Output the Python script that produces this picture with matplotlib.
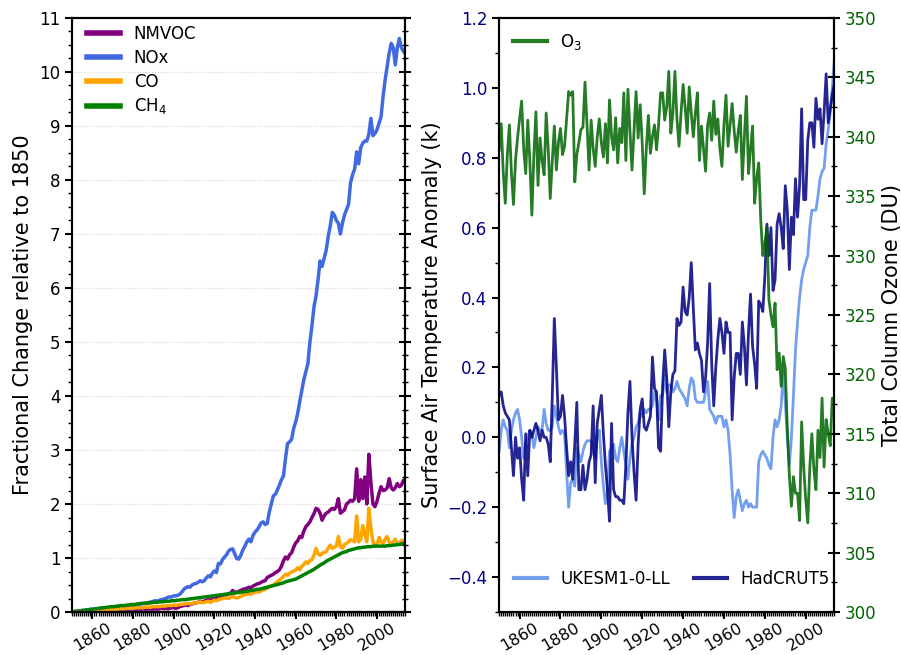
import numpy as np
import matplotlib
matplotlib.use("Agg")
import matplotlib.pyplot as plt
from matplotlib.ticker import MultipleLocator

years = np.arange(1850, 2015)

# fractional change relative to 1850 (left panel)
nmvoc = [0.00, 0.00, 0.01, 0.01, 0.01, 0.02, 0.01, 0.02, 0.02, 0.02,
         0.02, 0.03, 0.02, 0.03, 0.03, 0.02, 0.03, 0.03, 0.03, 0.04,
         0.03, 0.04, 0.04, 0.04, 0.03, 0.04, 0.04, 0.05, 0.04, 0.05,
         0.05, 0.05, 0.05, 0.04, 0.05, 0.06, 0.05, 0.05, 0.06, 0.05,
         0.05, 0.06, 0.05, 0.06, 0.07, 0.06, 0.07, 0.06, 0.07, 0.08,
         0.08, 0.07, 0.08, 0.10, 0.11, 0.12, 0.13, 0.12, 0.14, 0.15,
         0.16, 0.17, 0.18, 0.20, 0.19, 0.20, 0.22, 0.23, 0.21, 0.24,
         0.26, 0.25, 0.27, 0.29, 0.30, 0.31, 0.32, 0.34, 0.35, 0.40,
         0.36, 0.37, 0.38, 0.40, 0.42, 0.43, 0.44, 0.46, 0.45, 0.48,
         0.50, 0.52, 0.53, 0.55, 0.57, 0.58, 0.64, 0.66, 0.68, 0.70,
         0.73, 0.75, 0.78, 0.85, 0.95, 1.02, 0.98, 1.06, 1.10, 1.20,
         1.28, 1.32, 1.40, 1.38, 1.50, 1.58, 1.62, 1.67, 1.75, 1.82,
         1.92, 1.90, 1.83, 1.70, 1.78, 1.83, 1.85, 1.89, 1.92, 1.90,
         1.95, 2.10, 1.83, 1.86, 1.89, 2.00, 2.03, 2.07, 2.05, 2.10,
         2.65, 2.05, 2.45, 2.10, 2.50, 2.00, 2.92, 2.40, 2.00, 1.95,
         2.05, 2.20, 2.32, 2.25, 2.26, 2.30, 2.47, 2.30, 2.26, 2.30,
         2.38, 2.32, 2.35, 2.44, 2.40]

nox = [0.00, 0.01, 0.01, 0.02, 0.02, 0.03, 0.03, 0.04, 0.04, 0.05,
       0.05, 0.05, 0.06, 0.06, 0.07, 0.07, 0.07, 0.08, 0.08, 0.08,
       0.09, 0.09, 0.10, 0.10, 0.10, 0.11, 0.11, 0.11, 0.11, 0.12,
       0.12, 0.13, 0.14, 0.15, 0.15, 0.16, 0.17, 0.16, 0.18, 0.19,
       0.20, 0.21, 0.20, 0.22, 0.23, 0.24, 0.25, 0.27, 0.28, 0.28,
       0.30, 0.30, 0.31, 0.33, 0.37, 0.42, 0.45, 0.47, 0.46, 0.50,
       0.52, 0.53, 0.55, 0.58, 0.56, 0.58, 0.63, 0.67, 0.65, 0.72,
       0.76, 0.73, 0.90, 0.89, 0.97, 1.02, 1.06, 1.13, 1.16, 1.17,
       1.08, 0.99, 0.98, 1.05, 1.15, 1.22, 1.30, 1.35, 1.30, 1.42,
       1.48, 1.52, 1.58, 1.65, 1.67, 1.62, 1.64, 1.85, 2.00, 2.15,
       2.18, 2.26, 2.35, 2.45, 2.52, 2.85, 3.12, 3.15, 3.20, 3.40,
       3.52, 3.68, 3.90, 4.10, 4.30, 4.45, 4.60, 5.00, 5.30, 5.65,
       5.85, 6.15, 6.50, 6.40, 6.55, 6.70, 6.95, 7.15, 7.40, 7.35,
       7.25, 7.20, 7.00, 7.20, 7.35, 7.45, 7.55, 7.95, 8.10, 8.20,
       8.52, 8.30, 8.60, 8.68, 8.72, 8.72, 8.85, 9.14, 8.82, 8.86,
       8.93, 9.05, 9.17, 9.55, 9.85, 10.10, 10.35, 10.53, 10.45, 10.13,
       10.45, 10.62, 10.45, 10.38, 10.33]

co = [0.00, 0.00, 0.01, 0.01, 0.01, 0.01, 0.02, 0.02, 0.02, 0.02,
      0.03, 0.03, 0.03, 0.03, 0.04, 0.04, 0.04, 0.04, 0.05, 0.05,
      0.05, 0.05, 0.05, 0.06, 0.06, 0.06, 0.06, 0.07, 0.07, 0.07,
      0.07, 0.08, 0.08, 0.08, 0.08, 0.08, 0.09, 0.09, 0.09, 0.09,
      0.10, 0.10, 0.10, 0.10, 0.11, 0.11, 0.11, 0.12, 0.12, 0.12,
      0.13, 0.12, 0.13, 0.14, 0.14, 0.15, 0.15, 0.16, 0.15, 0.16,
      0.17, 0.17, 0.18, 0.19, 0.17, 0.18, 0.19, 0.20, 0.18, 0.20,
      0.22, 0.21, 0.23, 0.24, 0.25, 0.26, 0.26, 0.25, 0.27, 0.29,
      0.27, 0.26, 0.27, 0.29, 0.31, 0.32, 0.33, 0.34, 0.33, 0.35,
      0.36, 0.38, 0.37, 0.39, 0.41, 0.42, 0.44, 0.47, 0.49, 0.50,
      0.53, 0.56, 0.59, 0.62, 0.66, 0.70, 0.68, 0.72, 0.74, 0.76,
      0.78, 0.82, 0.78, 0.85, 0.88, 0.93, 0.90, 0.95, 0.97, 1.05,
      1.18, 1.08, 1.05, 1.09, 1.10, 1.12, 1.18, 1.24, 1.18, 1.20,
      1.22, 1.40, 1.21, 1.18, 1.25, 1.27, 1.30, 1.34, 1.32, 1.30,
      1.78, 1.30, 1.35, 1.60, 1.45, 1.30, 1.92, 1.55, 1.30, 1.22,
      1.25, 1.38, 1.30, 1.27, 1.35, 1.40, 1.30, 1.24, 1.30, 1.35,
      1.27, 1.25, 1.33, 1.28, 1.36]

ch4 = [0.00, 0.01, 0.01, 0.02, 0.02, 0.03, 0.03, 0.04, 0.04, 0.05,
       0.05, 0.06, 0.06, 0.07, 0.07, 0.08, 0.08, 0.09, 0.09, 0.10,
       0.10, 0.10, 0.11, 0.11, 0.12, 0.12, 0.12, 0.13, 0.13, 0.14,
       0.14, 0.14, 0.15, 0.15, 0.16, 0.16, 0.16, 0.17, 0.17, 0.17,
       0.18, 0.18, 0.18, 0.19, 0.19, 0.19, 0.20, 0.20, 0.20, 0.21,
       0.21, 0.21, 0.22, 0.22, 0.23, 0.23, 0.23, 0.24, 0.24, 0.25,
       0.25, 0.26, 0.26, 0.27, 0.27, 0.28, 0.28, 0.29, 0.29, 0.30,
       0.30, 0.31, 0.31, 0.32, 0.32, 0.33, 0.33, 0.34, 0.34, 0.35,
       0.35, 0.36, 0.36, 0.37, 0.37, 0.38, 0.38, 0.39, 0.40, 0.40,
       0.41, 0.42, 0.42, 0.43, 0.44, 0.45, 0.46, 0.47, 0.48, 0.49,
       0.50, 0.51, 0.52, 0.53, 0.54, 0.56, 0.57, 0.58, 0.59, 0.60,
       0.61, 0.63, 0.65, 0.67, 0.69, 0.71, 0.73, 0.75, 0.77, 0.79,
       0.82, 0.84, 0.87, 0.89, 0.91, 0.94, 0.96, 0.98, 1.00, 1.02,
       1.04, 1.06, 1.08, 1.10, 1.11, 1.12, 1.14, 1.15, 1.16, 1.17,
       1.18, 1.19, 1.19, 1.20, 1.20, 1.21, 1.21, 1.21, 1.22, 1.22,
       1.22, 1.22, 1.22, 1.22, 1.22, 1.23, 1.23, 1.23, 1.24, 1.24,
       1.25, 1.25, 1.26, 1.27, 1.28]

# right panel: temperature anomaly (K) and total column ozone (DU)
ukesm = [-0.04, 0.02, 0.05, 0.03, 0.02, -0.03, 0.02, 0.05, 0.07, 0.08,
         0.05, 0.00, -0.06, -0.02, 0.00, 0.02, 0.01, -0.03, 0.00, 0.03,
         0.02, 0.02, 0.08, 0.04, 0.02, 0.02, 0.03, 0.09, 0.06, 0.03,
         0.01, 0.02, 0.01, -0.10, -0.20, -0.13, -0.12, -0.14, -0.03, -0.05,
         -0.07, -0.04, -0.02, -0.01, -0.01, -0.01, -0.04, -0.06, 0.00, 0.02,
         -0.07, -0.14, -0.19, -0.15, -0.04, -0.03, -0.02, -0.06, -0.07, -0.03,
         0.00, -0.04, -0.08, -0.12, -0.06, -0.02, 0.00, 0.03, 0.04, 0.07,
         0.06, 0.08, 0.07, 0.08, 0.08, 0.09, 0.13, 0.11, 0.05, 0.12,
         0.12, 0.18, 0.13, 0.15, 0.15, 0.13, 0.14, 0.16, 0.14, 0.13,
         0.12, 0.11, 0.09, 0.14, 0.17, 0.16, 0.11, 0.10, 0.10, 0.10,
         0.10, 0.13, 0.16, 0.08, 0.07, 0.06, 0.04, 0.06, 0.06, 0.06,
         0.03, 0.05, 0.02, -0.05, -0.15, -0.23, -0.17, -0.15, -0.18, -0.21,
         -0.19, -0.18, -0.20, -0.19, -0.20, -0.20, -0.20, -0.07, -0.05, -0.04,
         -0.05, -0.06, -0.08, -0.09, 0.00, 0.05, 0.03, 0.05, 0.09, 0.19,
         0.10, 0.00, -0.08, 0.00, 0.12, 0.25, 0.33, 0.40, 0.45, 0.48,
         0.50, 0.52, 0.60, 0.65, 0.65, 0.65, 0.69, 0.74, 0.76, 0.77,
         0.84, 0.88, 0.93, 1.00, 1.08]

hadcrut5 = [0.12, 0.13, 0.09, 0.07, 0.06, 0.05, -0.03, -0.11, 0.00, -0.06,
            -0.03, -0.12, -0.18, 0.01, -0.11, 0.02, 0.00, 0.02, 0.04, 0.02,
            -0.01, 0.02, 0.00, 0.00, -0.02, -0.07, 0.12, 0.34, 0.20, 0.05,
            0.06, 0.12, 0.06, -0.03, -0.11, -0.07, -0.12, -0.02, 0.10, -0.15,
            -0.15, -0.08, -0.15, -0.12, -0.07, -0.05, 0.09, -0.13, 0.04, 0.08,
            0.12, 0.01, -0.08, -0.15, -0.24, 0.04, -0.15, -0.17, -0.17, -0.18,
            -0.18, -0.19, -0.08, 0.07, 0.16, 0.00, -0.10, -0.18, -0.02, 0.08,
            0.11, 0.03, 0.02, 0.04, 0.06, 0.23, 0.14, 0.13, -0.03, -0.04,
            0.15, 0.25, 0.17, 0.03, 0.13, 0.18, 0.19, 0.34, 0.32, 0.33,
            0.43, 0.36, 0.35, 0.40, 0.50, 0.37, 0.25, 0.27, 0.24, 0.22,
            0.13, 0.17, 0.27, 0.44, 0.21, 0.09, 0.20, 0.28, 0.34, 0.30,
            0.24, 0.33, 0.30, 0.30, 0.05, 0.17, 0.24, 0.24, 0.18, 0.33,
            0.26, 0.15, 0.30, 0.41, 0.26, 0.21, 0.14, 0.39, 0.38, 0.36,
            0.46, 0.61, 0.52, 0.60, 0.42, 0.45, 0.61, 0.64, 0.60, 0.54,
            0.72, 0.65, 0.48, 0.63, 0.58, 0.74, 0.63, 0.72, 0.94, 0.68,
            0.68, 0.85, 0.90, 0.90, 0.83, 0.97, 0.91, 0.94, 0.84, 0.93,
            1.04, 0.90, 0.94, 0.98, 1.01]

ozone = [338.9, 341.1, 337.0, 334.4, 338.5, 341.0, 337.0, 334.3, 338.0, 339.9,
         341.5, 343.0, 339.0, 336.9, 341.4, 338.0, 333.4, 338.5, 342.1, 335.9,
         339.9, 338.0, 336.8, 342.0, 339.0, 334.8, 338.0, 340.9, 337.2, 339.5,
         340.7, 338.5, 339.2, 341.5, 343.8, 343.5, 343.8, 336.2, 338.5, 339.5,
         340.6, 340.8, 344.6, 341.0, 337.2, 341.4, 339.0, 337.5, 340.0, 341.5,
         339.5, 338.3, 341.1, 337.8, 343.1, 340.0, 338.9, 341.6, 337.8, 340.7,
         339.5, 343.7, 338.0, 344.0, 340.5, 337.2, 340.5, 343.8, 339.9, 342.7,
         339.5, 335.2, 339.0, 341.8, 338.6, 340.0, 341.0, 338.9, 341.0, 343.7,
         343.7, 341.4, 342.5, 345.5, 340.3, 342.0, 345.5, 341.5, 339.2, 342.0,
         344.4, 342.5, 340.3, 344.2, 342.0, 340.0, 342.0, 343.7, 338.0, 340.9,
         339.0, 337.1, 341.0, 342.0, 339.7, 343.0, 340.2, 341.5, 339.0, 337.5,
         341.0, 343.5, 339.2, 341.0, 342.8, 340.5, 338.7, 340.5, 341.8, 336.4,
         340.0, 343.4, 336.9, 339.0, 340.9, 334.4, 336.5, 337.8, 333.0, 330.0,
         331.0, 332.4, 326.3, 325.0, 324.0, 326.0, 320.4, 321.8, 319.0, 321.5,
         320.5, 315.5, 311.5, 308.9, 311.4, 310.0, 310.0, 307.7, 316.0, 312.2,
         309.5, 307.5, 312.2, 315.0, 312.0, 310.3, 315.3, 313.0, 318.0, 312.2,
         316.2, 315.0, 314.0, 318.0, 317.3]

fig = plt.figure(figsize=(9.01, 6.55), dpi=100)
ax1 = fig.add_axes([0.080, 0.0656, 0.370, 0.907])
ax2 = fig.add_axes([0.554, 0.0656, 0.372, 0.907])

# ---- left panel
ax1.plot(years, nmvoc, color='purple', lw=2.5, label='NMVOC')
ax1.plot(years, nox, color='royalblue', lw=2.5, label='NOx')
ax1.plot(years, co, color='orange', lw=2.5, label='CO')
ax1.plot(years, ch4, color='green', lw=2.5, label='CH$_4$')
ax1.axhline(0, color='gray', ls='--', lw=2.5, zorder=3)
ax1.set_xlim(1850, 2014)
ax1.set_ylim(0, 11)
ax1.yaxis.set_major_locator(MultipleLocator(1))
ax1.yaxis.set_minor_locator(MultipleLocator(0.25))
ax1.grid(axis='y', color='lightgray', ls=':', lw=0.8)
ax1.set_ylabel('Fractional Change relative to 1850', fontsize=15)
leg = ax1.legend(loc='upper left', bbox_to_anchor=(0.01, 1.008), frameon=False,
                 fontsize=12, handlelength=2.0, borderaxespad=0.3, labelspacing=0.35)
for l in leg.get_lines():
    l.set_linewidth(4)

ax1r = ax1.twinx()
ax1r.set_ylim(0, 11)
ax1r.yaxis.set_major_locator(MultipleLocator(1))
ax1r.yaxis.set_minor_locator(MultipleLocator(0.25))
ax1r.tick_params(axis='y', which='major', direction='inout', length=8, width=1.5, labelright=False)
ax1r.tick_params(axis='y', which='minor', direction='inout', length=5, width=1)

# ---- right panel
ax2.plot(years, ukesm, color='cornflowerblue', alpha=0.9, lw=2, label='UKESM1-0-LL')
ax2.plot(years, hadcrut5, color='navy', alpha=0.85, lw=2, label='HadCRUT5')
ax2.set_xlim(1850, 2014)
ax2.set_ylim(-0.5, 1.2)
ax2.yaxis.set_major_locator(MultipleLocator(0.2))
ax2.yaxis.set_minor_locator(MultipleLocator(0.1))
ax2.tick_params(axis='y', colors='black', labelcolor='navy')
ax2.set_ylabel('Surface Air Temperature Anomaly (k)', fontsize=15)
leg2 = ax2.legend(loc='lower left', bbox_to_anchor=(0, 0.015), ncol=2, frameon=False,
                  fontsize=12, handlelength=2.0, columnspacing=1.4)
for l in leg2.get_lines():
    l.set_linewidth(3)

ax3 = ax2.twinx()
ax3.plot(years, ozone, color='darkgreen', alpha=0.85, lw=2, label='O$_3$')
ax3.set_ylim(300, 350)
ax3.yaxis.set_major_locator(MultipleLocator(5))
ax3.yaxis.set_minor_locator(MultipleLocator(2.5))
ax3.tick_params(axis='y', which='major', direction='inout', length=8, width=1.5,
                labelcolor='darkgreen', labelsize=12)
ax3.tick_params(axis='y', which='minor', direction='inout', length=5, width=1)
ax3.set_ylabel('Total Column Ozone (DU)', fontsize=15)
leg3 = ax3.legend(loc='upper left', frameon=False, fontsize=12, handlelength=2.0,
                  borderaxespad=0.45)
for l in leg3.get_lines():
    l.set_linewidth(3)

for ax in (ax1, ax2):
    ax.xaxis.set_major_locator(MultipleLocator(20))
    ax.xaxis.set_minor_locator(MultipleLocator(1))
    ax.tick_params(axis='x', which='major', length=5, width=1.5, labelsize=11.5,
                   labelrotation=30, pad=1)
    ax.tick_params(axis='x', which='minor', length=3, width=1)
    ax.tick_params(axis='y', which='major', length=5, width=1.5, labelsize=12)
    ax.tick_params(axis='y', which='minor', length=3, width=1)

for ax in (ax1, ax1r, ax2, ax3):
    for s in ax.spines.values():
        s.set_linewidth(1.5)

fig.savefig('out.png', dpi=100)
